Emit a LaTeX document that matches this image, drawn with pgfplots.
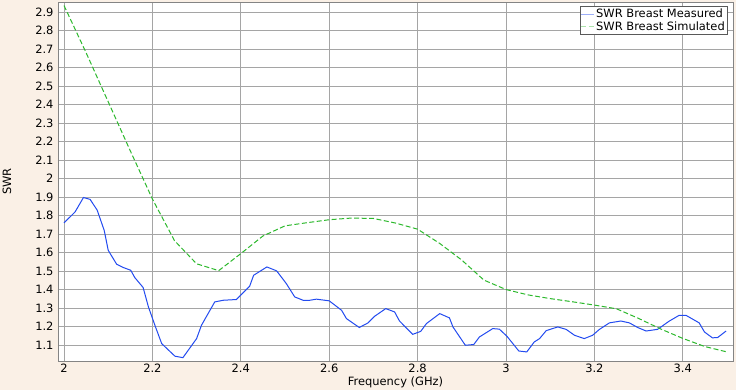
\documentclass[border=0pt]{standalone}
\usepackage{pgfplots}
\pgfplotsset{compat=1.18}
\usepackage{fontspec}
\setmainfont{DejaVu Sans}
\definecolor{bgc}{RGB}{250,240,230}
\definecolor{meas}{RGB}{35,75,240}
\definecolor{sim}{RGB}{45,185,45}
\definecolor{gridc}{RGB}{165,165,165}
\begin{document}
\fontsize{11.5}{13}\selectfont
\begin{tikzpicture}
\useasboundingbox (0,0) rectangle (736bp,390bp);
\fill[bgc] (0,0) rectangle (736bp,390bp);
\begin{axis}[
  at={(58bp,29bp)}, anchor=south west,
  width=675bp, height=359bp, scale only axis,
  xmin=1.9864, xmax=3.5136, ymin=1.015, ymax=2.954,
  xtick={2,2.2,...,3.41}, xticklabels={2,2.2,2.4,2.6,2.8,3,3.2,3.4},
  ytick={1.1,1.2,...,2.95},
  yticklabels={1.1,1.2,1.3,1.4,1.5,1.6,1.7,1.8,1.9,2,2.1,2.2,2.3,2.4,2.5,2.6,2.7,2.8,2.9},
  major tick length=0pt,
  grid=major, grid style={gridc, line width=0.8bp},
  axis line style={gridc!80!black, line width=0.8bp},
  axis background/.style={fill=white},
  tick label style={font=\fontsize{11.5}{13}\selectfont},
  yticklabel style={xshift=-0.5bp},
  xticklabel style={yshift=1bp},
  /pgf/number format/assume math mode=true,
  xlabel={Frequency (GHz)}, ylabel={SWR},
  label style={font=\fontsize{11.5}{13}\selectfont},
  xlabel style={at={(axis description cs:0.5,-0.0585)}, anchor=center},
  ylabel style={at={(axis description cs:-0.0756,0.5)}, anchor=center, rotate=0},
  legend style={at={(axis cs:3.5,2.93)}, anchor=north east, draw=gray!70!black, fill=white,
    inner sep=0.5pt, row sep=-2pt, font=\fontsize{11.5}{13}\selectfont, cells={anchor=west},
    nodes={inner xsep=1.5pt}},
  legend image code/.code={\draw[#1] (0cm,0cm) -- (0.45cm,0cm);},
  legend cell align=left,
]
\addplot[meas, line width=1bp, no marks, legend image post style={meas!45}] coordinates {
(2.000,1.761) (2.025,1.820) (2.044,1.898) (2.059,1.888) (2.075,1.830) (2.091,1.720)
(2.100,1.613) (2.119,1.538) (2.134,1.520) (2.151,1.505) (2.160,1.466) (2.179,1.412)
(2.191,1.307) (2.207,1.199) (2.221,1.109) (2.251,1.041) (2.269,1.033) (2.300,1.136)
(2.311,1.208) (2.341,1.334) (2.360,1.343) (2.390,1.347) (2.420,1.419) (2.429,1.478)
(2.459,1.523) (2.481,1.502) (2.503,1.433) (2.522,1.361) (2.541,1.343) (2.556,1.343)
(2.571,1.349) (2.600,1.340) (2.628,1.289) (2.639,1.244) (2.668,1.196) (2.688,1.221)
(2.703,1.257) (2.728,1.298) (2.748,1.280) (2.759,1.231) (2.789,1.159) (2.807,1.175)
(2.820,1.217) (2.850,1.271) (2.872,1.248) (2.880,1.199) (2.908,1.100) (2.927,1.104)
(2.940,1.145) (2.970,1.190) (2.985,1.187) (3.002,1.149) (3.029,1.069) (3.047,1.064)
(3.064,1.118) (3.076,1.136) (3.091,1.179) (3.117,1.199) (3.136,1.186) (3.155,1.154)
(3.177,1.136) (3.196,1.154) (3.211,1.185) (3.234,1.221) (3.260,1.231) (3.279,1.221)
(3.298,1.196) (3.317,1.177) (3.343,1.186) (3.369,1.230) (3.392,1.262) (3.407,1.262)
(3.437,1.221) (3.449,1.172) (3.467,1.140) (3.479,1.142) (3.498,1.177)
};
\addlegendentry{SWR Breast Measured}
\addplot[sim, line width=1bp, no marks, dash pattern=on 5bp off 2.5bp, legend image post style={sim!40}] coordinates {
(2.00,2.935) (2.05,2.68) (2.10,2.415) (2.15,2.15) (2.20,1.89) (2.25,1.665) (2.30,1.54)
(2.35,1.503) (2.40,1.595) (2.45,1.69) (2.50,1.745) (2.55,1.762) (2.60,1.778) (2.65,1.787)
(2.70,1.785) (2.75,1.76) (2.80,1.727) (2.85,1.65) (2.90,1.56) (2.95,1.452) (3.00,1.401)
(3.05,1.372) (3.10,1.352) (3.15,1.335) (3.20,1.317) (3.25,1.297) (3.30,1.245) (3.35,1.188)
(3.40,1.137) (3.45,1.093) (3.50,1.064)
};
\addlegendentry{SWR Breast Simulated}
\end{axis}
\end{tikzpicture}
\end{document}
